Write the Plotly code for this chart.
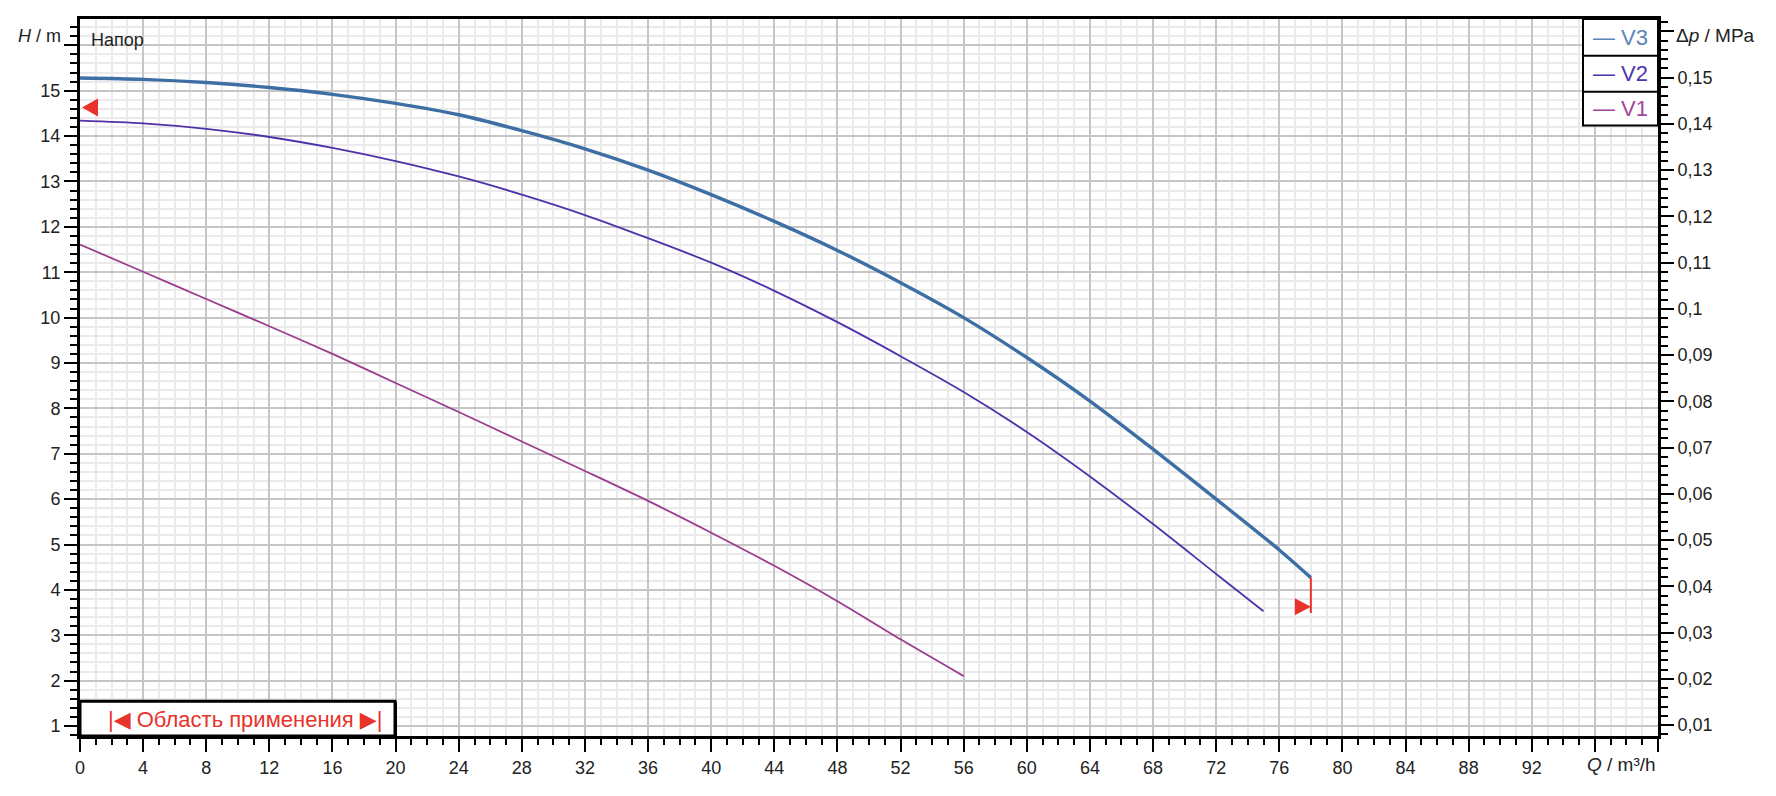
import plotly.graph_objects as go

# ---------------- data ----------------
q_v3 = [0, 4, 8, 12, 16, 20, 24, 28, 32, 36, 40, 44, 48, 52, 56, 60, 64, 68, 72, 76, 78]
h_v3 = [15.28, 15.25, 15.18, 15.07, 14.92, 14.72, 14.47, 14.12, 13.72, 13.25, 12.71,
        12.12, 11.48, 10.77, 10.00, 9.12, 8.16, 7.10, 6.00, 4.88, 4.27]

q_v2 = [0, 4, 8, 12, 16, 20, 24, 28, 32, 36, 40, 44, 48, 52, 56, 60, 64, 68, 72, 75]
h_v2 = [14.34, 14.28, 14.16, 13.98, 13.74, 13.45, 13.11, 12.71, 12.26, 11.75, 11.21,
        10.59, 9.90, 9.15, 8.36, 7.48, 6.50, 5.45, 4.35, 3.53]

q_v1 = [0, 4, 8, 12, 16, 20, 24, 28, 32, 36, 40, 44, 48, 52, 56]
h_v1 = [11.61, 11.01, 10.41, 9.81, 9.20, 8.56, 7.92, 7.27, 6.62, 5.96, 5.26, 4.53, 3.75, 2.91, 2.10]

series_names = ["V3", "V2", "V1"]

# working range ("Область применения") limits
range_q = [0, 78]
range_h_left = 14.63
range_h_right_line = [4.27, 3.49]
range_h_right_marker = 3.63

# axes
h_range = [0.78, 16.58]
q_range = [0, 100]
mpa_per_m = 0.00981
h_ticks = list(range(1, 17))
q_ticks = list(range(0, 101, 4))
p_ticks = [round(0.01 * i, 2) for i in range(1, 17)]

# ---------------- styling ----------------
colors = {"V3": "#3d6ea4", "V2": "#4f31aa", "V1": "#9b3c8f"}
text_colors = {"V3": "#5b85b9", "V2": "#4f33b0", "V1": "#a2459a"}
widths = {"V3": 3.4, "V2": 1.8, "V1": 1.8}
RED = "#e8332a"
FONT = "Liberation Sans, Arial, sans-serif"
TICKCOL = "#222222"

fig = go.Figure()
for name, q, h in [("V3", q_v3, h_v3), ("V2", q_v2, h_v2), ("V1", q_v1, h_v1)]:
    fig.add_trace(go.Scatter(x=q, y=h, mode="lines", name=name,
                             line=dict(color=colors[name], width=widths[name],
                                       shape="spline", smoothing=0.8),
                             showlegend=False))

# red end line of working range
fig.add_trace(go.Scatter(x=[range_q[1], range_q[1]], y=range_h_right_line, mode="lines",
                         line=dict(color=RED, width=2), showlegend=False))
# dummy trace on secondary axis
fig.add_trace(go.Scatter(x=[None], y=[None], yaxis="y2", showlegend=False))

ytext = [str(v) if v < 16 else "" for v in h_ticks]
xtext = [str(v) if v <= 92 else "" for v in q_ticks]
ptext = [("%g" % v).replace(".", ",") if v < 0.155 else "" for v in p_ticks]

TICKSIZE = 18
axis_common = dict(showline=True, linecolor="black", linewidth=3, ticks="outside",
                   tickcolor="black", tickwidth=2, ticklen=13, zeroline=False,
                   tickfont=dict(family=FONT, size=TICKSIZE, color=TICKCOL))

# page body has an 8px margin: plot area spans x 80..1658, y 16..736 of the window
fig.update_layout(
    width=1768, height=788,
    margin=dict(l=72, r=118, t=8, b=60),
    paper_bgcolor="white", plot_bgcolor="white",
    showlegend=False,
    xaxis=dict(range=q_range, tickmode="array", tickvals=q_ticks, ticktext=xtext,
               mirror=True, showgrid=True, gridcolor="#c6c6c6", gridwidth=1.5,
               minor=dict(tickmode="linear", tick0=0, dtick=1, ticks="outside", ticklen=6,
                          tickwidth=2, tickcolor="black", showgrid=True,
                          gridcolor="#eaeaea", gridwidth=1.5),
               **axis_common),
    yaxis=dict(range=h_range, tickmode="array", tickvals=h_ticks, ticktext=ytext,
               showgrid=True, gridcolor="#c6c6c6", gridwidth=1.5,
               minor=dict(tickmode="linear", tick0=0, dtick=0.2, ticks="outside", ticklen=7,
                          tickwidth=2, tickcolor="black", showgrid=True,
                          gridcolor="#eaeaea", gridwidth=1.5),
               **axis_common),
    yaxis2=dict(range=[h_range[0] * mpa_per_m, h_range[1] * mpa_per_m], overlaying="y",
                side="right", tickmode="array", tickvals=p_ticks, ticktext=ptext,
                showgrid=False,
                minor=dict(tickmode="linear", tick0=0, dtick=0.002, ticks="outside", ticklen=7,
                           tickwidth=2, tickcolor="black", showgrid=False),
                **axis_common),
)

W, H, L, T = 1578.0, 720.0, 80.0, 16.0
def px(xp):
    return (xp - L) / W
def py(yp):
    return (T + H - yp) / H

shapes = []
# legend box
shapes.append(dict(type="rect", xref="paper", yref="paper", x0=px(1583), x1=1, y0=py(123), y1=1,
                   fillcolor="white", line=dict(color="black", width=2), layer="above"))
for yy in (53, 89):
    shapes.append(dict(type="line", xref="paper", yref="paper", x0=px(1583), x1=1, y0=py(yy), y1=py(yy),
                       line=dict(color="black", width=2), layer="above"))
# working range box
shapes.append(dict(type="rect", xref="paper", yref="paper", x0=0, x1=px(395), y0=0, y1=py(701),
                   fillcolor="white", line=dict(color="black", width=3), layer="above"))
shapes.append(dict(type="line", xref="paper", yref="paper", x0=px(396), x1=px(396), y0=0, y1=py(702),
                   line=dict(color="black", width=2), layer="above"))
# red triangles
shapes.append(dict(type="path", xref="x", yref="y", xsizemode="pixel", ysizemode="pixel",
                   xanchor=range_q[0], yanchor=range_h_left, path="M 2,0 L 18,9 L 18,-9 Z",
                   fillcolor=RED, line=dict(width=0), layer="above"))
shapes.append(dict(type="path", xref="x", yref="y", xsizemode="pixel", ysizemode="pixel",
                   xanchor=range_q[1], yanchor=range_h_right_marker, path="M 0,0 L -16,8.5 L -16,-8.5 Z",
                   fillcolor=RED, line=dict(width=0), layer="above"))
fig.update_layout(shapes=shapes)

ann = []
ann.append(dict(text="<i>H</i> / m", xref="paper", yref="paper", x=px(63), y=py(33),
                xanchor="right", yanchor="middle", showarrow=False,
                font=dict(family=FONT, size=18, color=TICKCOL)))
ann.append(dict(text="Δ<i>p</i> / MPa", xref="paper", yref="paper", x=px(1674), y=py(33),
                xanchor="left", yanchor="middle", showarrow=False,
                font=dict(family=FONT, size=19, color=TICKCOL)))
ann.append(dict(text="<i>Q</i> / m³/h", xref="paper", yref="paper", x=1, y=py(765),
                xanchor="right", yanchor="middle", showarrow=False,
                font=dict(family=FONT, size=19, color=TICKCOL)))
ann.append(dict(text="Напор", xref="paper", yref="paper", x=px(89), y=py(37),
                xanchor="left", yanchor="middle", showarrow=False,
                font=dict(family=FONT, size=18, color="#1e1e1e")))
for name, yy in zip(series_names, (34.5, 71, 106)):
    ann.append(dict(text="— " + name, xref="paper", yref="paper", x=px(1620), y=py(yy),
                    xanchor="center", yanchor="middle", showarrow=False,
                    font=dict(family=FONT, size=22, color=text_colors[name])))
box_text = ("|<span style='font-family:DejaVu Sans'>◀</span> Область применения "
            "<span style='font-family:DejaVu Sans'>▶</span>|")
ann.append(dict(text=box_text, xref="paper", yref="paper", x=px(245.5), y=py(719),
                xanchor="center", yanchor="middle", showarrow=False,
                font=dict(family=FONT, size=22, color=RED)))
fig.update_layout(annotations=ann)

fig.write_html("out.html")
